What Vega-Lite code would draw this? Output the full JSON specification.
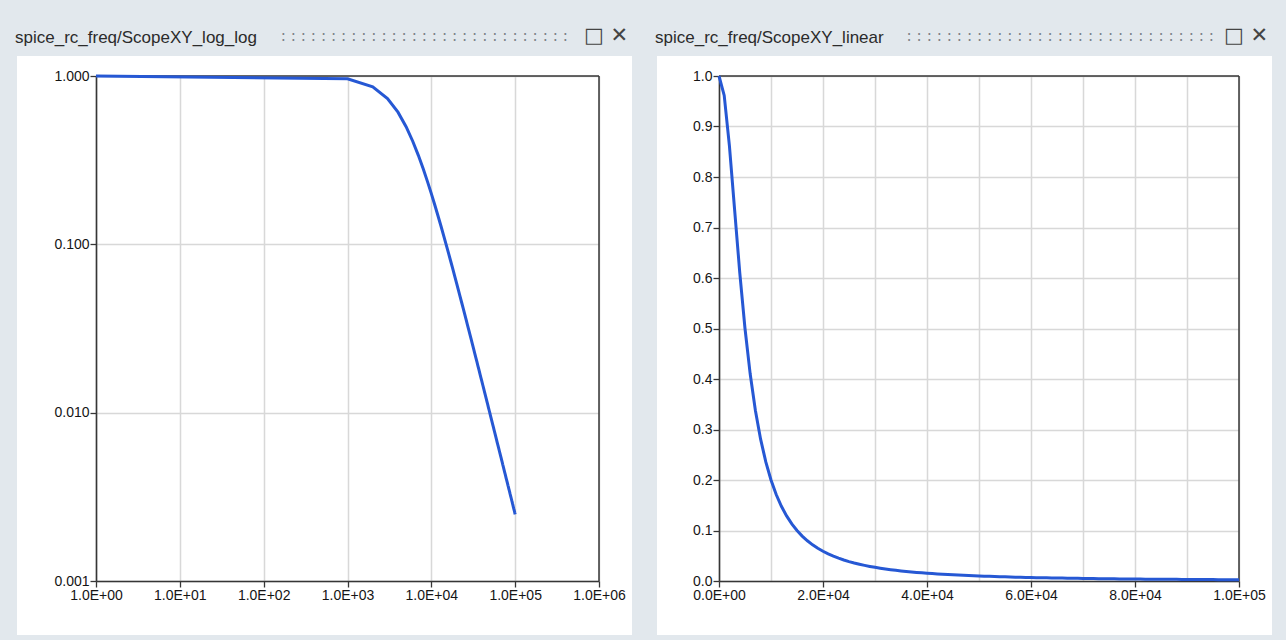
{
  "$schema": "https://vega.github.io/schema/vega-lite/v6.json",
  "background": "#e2e8ed",
  "padding": {"left": 15, "top": 25, "right": 20, "bottom": 10},
  "spacing": 23,
  "config": {
    "view": {"fill": "white", "stroke": null},
    "axis": {
      "grid": true,
      "domainColor": "#363636",
      "domainWidth": 1.6,
      "tickColor": "#363636",
      "tickWidth": 1.3,
      "tickSize": 6,
      "gridColor": "#d8d8d8",
      "gridWidth": 1.5,
      "labelFont": "Liberation Sans",
      "labelFontSize": 14,
      "labelColor": "#151515",
      "labelPadding": 1,
      "labelFlush": false,
      "labelOverlap": false
    },
    "title": {"fontWeight": "normal", "baseline": "alphabetic"}
  },
  "datasets": {
    "rc": [
      {"f": 1, "v": 1.0},
      {"f": 1000, "v": 0.9615},
      {"f": 2000, "v": 0.8621},
      {"f": 3000, "v": 0.7353},
      {"f": 4000, "v": 0.6098},
      {"f": 5000, "v": 0.5},
      {"f": 6000, "v": 0.4098},
      {"f": 7000, "v": 0.3378},
      {"f": 8000, "v": 0.2809},
      {"f": 9000, "v": 0.2358},
      {"f": 10000, "v": 0.2},
      {"f": 11000, "v": 0.1712},
      {"f": 12000, "v": 0.1479},
      {"f": 13000, "v": 0.1289},
      {"f": 14000, "v": 0.1131},
      {"f": 15000, "v": 0.1},
      {"f": 16000, "v": 0.08897},
      {"f": 17000, "v": 0.07962},
      {"f": 18000, "v": 0.07163},
      {"f": 19000, "v": 0.06477},
      {"f": 20000, "v": 0.05882},
      {"f": 21000, "v": 0.05365},
      {"f": 22000, "v": 0.04912},
      {"f": 23000, "v": 0.04513},
      {"f": 24000, "v": 0.0416},
      {"f": 25000, "v": 0.03846},
      {"f": 26000, "v": 0.03566},
      {"f": 27000, "v": 0.03316},
      {"f": 28000, "v": 0.0309},
      {"f": 29000, "v": 0.02887},
      {"f": 30000, "v": 0.02703},
      {"f": 31000, "v": 0.02535},
      {"f": 32000, "v": 0.02383},
      {"f": 33000, "v": 0.02244},
      {"f": 34000, "v": 0.02117},
      {"f": 35000, "v": 0.02},
      {"f": 36000, "v": 0.01893},
      {"f": 37000, "v": 0.01793},
      {"f": 38000, "v": 0.01702},
      {"f": 39000, "v": 0.01617},
      {"f": 40000, "v": 0.01538},
      {"f": 41000, "v": 0.01465},
      {"f": 42000, "v": 0.01397},
      {"f": 43000, "v": 0.01334},
      {"f": 44000, "v": 0.01275},
      {"f": 45000, "v": 0.0122},
      {"f": 46000, "v": 0.01168},
      {"f": 47000, "v": 0.01119},
      {"f": 48000, "v": 0.01073},
      {"f": 49000, "v": 0.0103},
      {"f": 50000, "v": 0.0099},
      {"f": 51000, "v": 0.00952},
      {"f": 52000, "v": 0.00916},
      {"f": 53000, "v": 0.00882},
      {"f": 54000, "v": 0.0085},
      {"f": 55000, "v": 0.0082},
      {"f": 56000, "v": 0.00791},
      {"f": 57000, "v": 0.00764},
      {"f": 58000, "v": 0.00738},
      {"f": 59000, "v": 0.00713},
      {"f": 60000, "v": 0.0069},
      {"f": 61000, "v": 0.00667},
      {"f": 62000, "v": 0.00646},
      {"f": 63000, "v": 0.00626},
      {"f": 64000, "v": 0.00607},
      {"f": 65000, "v": 0.00588},
      {"f": 66000, "v": 0.00571},
      {"f": 67000, "v": 0.00554},
      {"f": 68000, "v": 0.00538},
      {"f": 69000, "v": 0.00522},
      {"f": 70000, "v": 0.00508},
      {"f": 71000, "v": 0.00493},
      {"f": 72000, "v": 0.0048},
      {"f": 73000, "v": 0.00467},
      {"f": 74000, "v": 0.00454},
      {"f": 75000, "v": 0.00442},
      {"f": 76000, "v": 0.00431},
      {"f": 77000, "v": 0.0042},
      {"f": 78000, "v": 0.00409},
      {"f": 79000, "v": 0.00399},
      {"f": 80000, "v": 0.00389},
      {"f": 81000, "v": 0.0038},
      {"f": 82000, "v": 0.0037},
      {"f": 83000, "v": 0.00362},
      {"f": 84000, "v": 0.00353},
      {"f": 85000, "v": 0.00345},
      {"f": 86000, "v": 0.00337},
      {"f": 87000, "v": 0.00329},
      {"f": 88000, "v": 0.00322},
      {"f": 89000, "v": 0.00315},
      {"f": 90000, "v": 0.00308},
      {"f": 91000, "v": 0.00301},
      {"f": 92000, "v": 0.00295},
      {"f": 93000, "v": 0.00288},
      {"f": 94000, "v": 0.00282},
      {"f": 95000, "v": 0.00276},
      {"f": 96000, "v": 0.0027},
      {"f": 97000, "v": 0.00265},
      {"f": 98000, "v": 0.0026},
      {"f": 99000, "v": 0.00254},
      {"f": 100000, "v": 0.00249}
    ]
  },
  "hconcat": [
    {
      "title": {"text": "□ ✕", "anchor": "end", "dx": -4, "offset": -17, "font": "DejaVu Sans", "fontSize": 21, "color": "#444444"},
      "vconcat": [
        {
          "title": {"text": ": : : : : : : : : : : : : : : : : : : : : : : : : : : : :", "anchor": "end", "dx": -64, "offset": -15.5, "font": "DejaVu Sans", "fontSize": 15.4, "color": "#7d8388"},
          "vconcat": [
            {
              "width": 615,
              "height": 579,
              "title": {"text": "spice_rc_freq/ScopeXY_log_log", "anchor": "start", "dx": -2, "offset": 9, "font": "Liberation Sans", "fontSize": 17, "color": "#2b2b2b"},
              "layer": [
                {
                  "data": {"values": [{}]},
                  "mark": {"type": "rule", "color": "#363636", "strokeWidth": 1.5},
                  "encoding": {
                    "x": {"datum": 1, "type": "quantitative"},
                    "x2": {"datum": 1000000},
                    "y": {"datum": 1, "type": "quantitative"}
                  }
                },
                {
                  "data": {"values": [{}]},
                  "mark": {"type": "rule", "color": "#363636", "strokeWidth": 1.5},
                  "encoding": {
                    "x": {"datum": 1000000, "type": "quantitative"},
                    "y": {"datum": 0.001, "type": "quantitative"},
                    "y2": {"datum": 1}
                  }
                },
                {
                  "data": {"name": "rc"},
                  "mark": {"type": "line", "color": "#2658d4", "strokeWidth": 3},
                  "encoding": {
                    "x": {
                      "field": "f", "type": "quantitative",
                      "scale": {"type": "log", "domain": [1, 1000000], "range": [79, 582]},
                      "axis": {"title": null, "grid": true, "orient": "top", "offset": -525, "tickSize": -6, "labelBaseline": "top", "labelPadding": -1, "values": [1, 10, 100, 1000, 10000, 100000, 1000000], "labelExpr": "'1.0E+0' + round(log(datum.value) / LN10)"}
                    },
                    "y": {
                      "field": "v", "type": "quantitative",
                      "scale": {"type": "log", "domain": [0.001, 1], "range": [525, 20]},
                      "axis": {"title": null, "grid": true, "offset": -79, "values": [0.001, 0.01, 0.1, 1], "format": ".3f"}
                    }
                  }
                }
              ]
            }
          ]
        }
      ]
    },
    {
      "title": {"text": "□ ✕", "anchor": "end", "dx": -4, "offset": -17, "font": "DejaVu Sans", "fontSize": 21, "color": "#444444"},
      "vconcat": [
        {
          "title": {"text": ": : : : : : : : : : : : : : : : : : : : : : : : : : : : : : :", "anchor": "end", "dx": -58, "offset": -15.5, "font": "DejaVu Sans", "fontSize": 15.4, "color": "#7d8388"},
          "vconcat": [
            {
              "width": 615,
              "height": 579,
              "title": {"text": "spice_rc_freq/ScopeXY_linear", "anchor": "start", "dx": -2, "offset": 9, "font": "Liberation Sans", "fontSize": 17, "color": "#2b2b2b"},
              "layer": [
                {
                  "data": {"values": [{}]},
                  "mark": {"type": "rule", "color": "#363636", "strokeWidth": 1.5},
                  "encoding": {
                    "x": {"datum": 0, "type": "quantitative"},
                    "x2": {"datum": 100000},
                    "y": {"datum": 1, "type": "quantitative"}
                  }
                },
                {
                  "data": {"values": [{}]},
                  "mark": {"type": "rule", "color": "#363636", "strokeWidth": 1.5},
                  "encoding": {
                    "x": {"datum": 100000, "type": "quantitative"},
                    "y": {"datum": 0, "type": "quantitative"},
                    "y2": {"datum": 1}
                  }
                },
                {
                  "data": {"name": "rc"},
                  "mark": {"type": "line", "color": "#2658d4", "strokeWidth": 3},
                  "encoding": {
                    "x": {
                      "field": "f", "type": "quantitative",
                      "scale": {"type": "linear", "domain": [0, 100000], "range": [62, 582], "nice": false, "zero": false},
                      "axis": {
                        "title": null, "grid": true, "orient": "top", "offset": -525, "tickSize": -6, "labelBaseline": "top", "labelPadding": -1,
                        "values": [0, 10000, 20000, 30000, 40000, 50000, 60000, 70000, 80000, 90000, 100000],
                        "labelExpr": "datum.value % 20000 != 0 ? '' : (datum.value == 0 ? '0.0E+00' : (datum.value == 100000 ? '1.0E+05' : format(datum.value / 10000, '.1f') + 'E+04'))",
                        "tickOpacity": {"condition": {"test": "datum.value % 20000 == 0", "value": 1}, "value": 0}
                      }
                    },
                    "y": {
                      "field": "v", "type": "quantitative",
                      "scale": {"type": "linear", "domain": [0, 1], "range": [525, 20], "nice": false},
                      "axis": {"title": null, "grid": true, "offset": -62, "values": [0, 0.1, 0.2, 0.3, 0.4, 0.5, 0.6, 0.7, 0.8, 0.9, 1.0], "format": ".1f"}
                    }
                  }
                }
              ]
            }
          ]
        }
      ]
    }
  ]
}
